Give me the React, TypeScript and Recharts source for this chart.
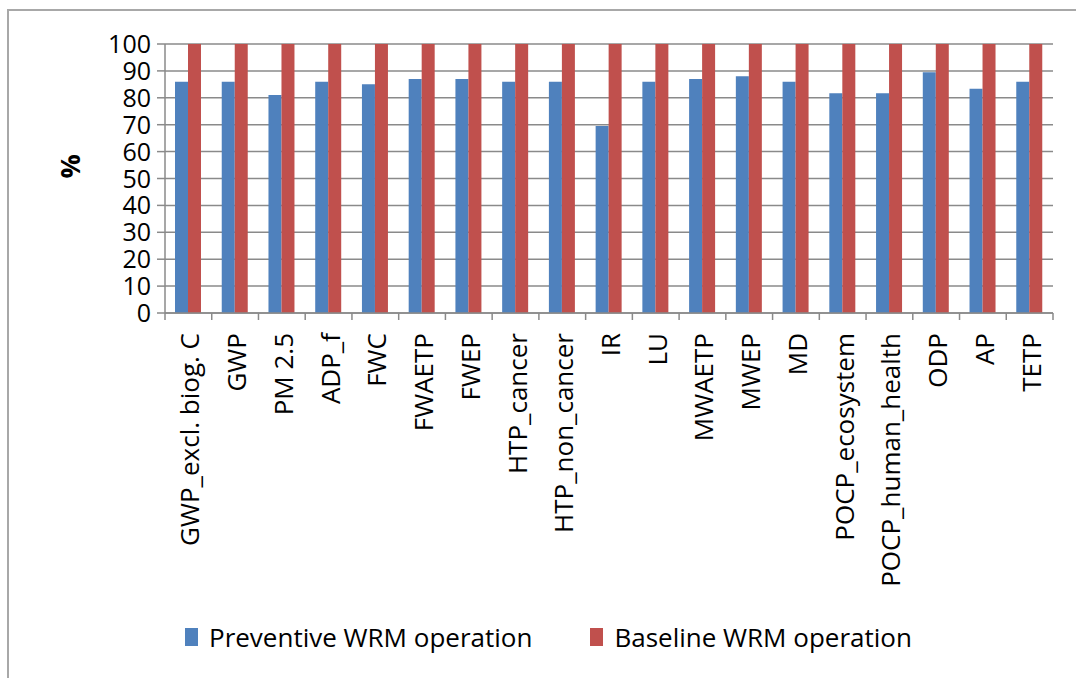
import React from 'react';
import { BarChart, Bar, XAxis, YAxis, CartesianGrid, Legend } from 'recharts';

const categories = [
  'GWP_excl. biog. C', 'GWP', 'PM 2.5', 'ADP_f', 'FWC', 'FWAETP', 'FWEP',
  'HTP_cancer', 'HTP_non_cancer', 'IR', 'LU', 'MWAETP', 'MWEP', 'MD',
  'POCP_ecosystem', 'POCP_human_health', 'ODP', 'AP', 'TETP',
];
const preventive = [86, 86, 81, 86, 85, 87, 87, 86, 86, 69.5, 86, 87, 88, 86, 81.7, 81.7, 89.5, 83.4, 86];
const baseline = [100, 100, 100, 100, 100, 100, 100, 100, 100, 100, 100, 100, 100, 100, 100, 100, 100, 100, 100];
const yTicks = [0, 10, 20, 30, 40, 50, 60, 70, 80, 90, 100];
const seriesNames = ['Preventive WRM operation', 'Baseline WRM operation'];

const data = categories.map((c, i) => ({ name: c, prev: preventive[i], base: baseline[i] }));

const W = 1076;
const H = 678;
const M = { top: 44, right: 23, left: 0, bottom: 0 };
const Y_W = 165;
const PLOT_W = W - M.right - M.left - Y_W;
const BAND = PLOT_W / categories.length;
const GRAY = '#8a8a8a';
const FONT = 'Open Sans';

const XTick = (props: any) => {
  const { x, y, payload, index } = props;
  const left = x - BAND / 2;
  return (
    <g>
      <line x1={left} y1={y} x2={left} y2={y + 7} stroke={GRAY} strokeWidth={1.5} />
      {index === categories.length - 1 && (
        <line x1={x + BAND / 2} y1={y} x2={x + BAND / 2} y2={y + 7} stroke={GRAY} strokeWidth={1.5} />
      )}
      <g transform={`translate(${x + 1},${y + 20})`}>
        <text transform="rotate(-90)" textAnchor="end" dominantBaseline="central"
          fontFamily={FONT} fontSize={26} fill="#000">{payload.value}</text>
      </g>
    </g>
  );
};

const YTick = (props: any) => {
  const { x, y, payload } = props;
  return (
    <text x={x} y={y} dy="0.36em" textAnchor="end" fontFamily={FONT} fontSize={25} fill="#000">
      {payload.value}
    </text>
  );
};

const LegendContent = (props: any) => {
  const payload = [...(props.payload || [])].sort(
    (a: any, b: any) => seriesNames.indexOf(a.value) - seriesNames.indexOf(b.value)
  );
  return (
    <div style={{ display: 'flex', alignItems: 'center', paddingLeft: 185, fontFamily: FONT, fontSize: 26, color: '#000' }}>
      {payload.map((p: any, i: number) => (
        <div key={i} style={{ display: 'flex', alignItems: 'center', marginRight: 58 }}>
          <span style={{ display: 'inline-block', width: 13, height: 18, background: p.color, marginRight: 11 }} />
          <span style={{ lineHeight: '30px' }}>{p.value}</span>
        </div>
      ))}
    </div>
  );
};

export default function App() {
  return (
    <div style={{ position: 'absolute', left: 0, top: 0, width: W, height: H, overflow: 'hidden', background: '#fff' }}>
      <div style={{ position: 'absolute', left: 7, top: 9, width: 1200, height: 800, borderTop: '2px solid #a8a8a8', borderLeft: '2px solid #a8a8a8' }} />
      <div style={{ position: 'absolute', left: 0, top: 0 }}>
        <BarChart width={W} height={H} data={data} margin={M} barGap={0} barCategoryGap="21.4%">
          <CartesianGrid vertical={false} stroke={GRAY} strokeWidth={1.5} />
          <XAxis dataKey="name" interval={0} height={365} tickSize={0} tickMargin={0}
            tickLine={false} axisLine={{ stroke: GRAY, strokeWidth: 1.5 }} tick={<XTick />} />
          <YAxis domain={[0, 100]} ticks={yTicks} width={Y_W} interval={0} tickSize={8} tickMargin={6}
            axisLine={{ stroke: GRAY, strokeWidth: 1.5 }} tickLine={{ stroke: GRAY, strokeWidth: 1.5 }}
            tick={<YTick />}
            label={{ value: '%', angle: -90, position: 'insideLeft', offset: 70, fontSize: 27, fontWeight: 'bold', fill: '#000', fontFamily: FONT }} />
          <Legend verticalAlign="middle" align="center" layout="horizontal"
            wrapperStyle={{ top: 622, left: 0, width: W }} content={<LegendContent />} />
          <Bar dataKey="prev" name={seriesNames[0]} fill="#4F81BD" isAnimationActive={false} />
          <Bar dataKey="base" name={seriesNames[1]} fill="#C0504D" isAnimationActive={false} />
        </BarChart>
      </div>
    </div>
  );
}
